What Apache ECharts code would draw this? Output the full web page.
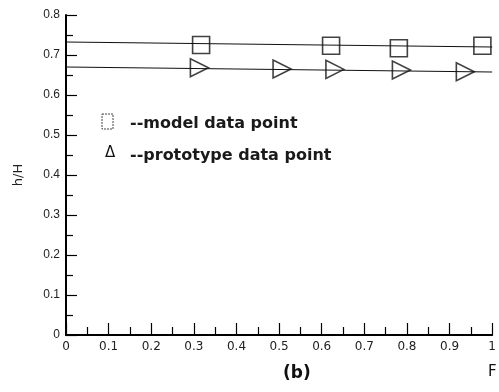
<!DOCTYPE html>
<html>
<head>
<meta charset="utf-8">
<script src="https://cdn.jsdelivr.net/npm/echarts@6/dist/echarts.min.js"></script>
<style>
  html, body { margin: 0; padding: 0; background: #fff; }
  #chart { width: 499px; height: 392px; }
</style>
</head>
<body>
<div id="chart"></div>
<script>
// values
const modelX = [0.317, 0.622, 0.781, 0.977];
const modelY = [0.725, 0.723, 0.717, 0.723];
const protoX = [0.313, 0.507, 0.631, 0.787, 0.937];
const protoY = [0.668, 0.665, 0.664, 0.6625, 0.658];
// fitted lines (end points)
const modelFitX = [0, 1];
const modelFitY = [0.7325, 0.72];
const protoFitX = [0, 1];
const protoFitY = [0.67, 0.6575];
const xTicks = ["0", "0.1", "0.2", "0.3", "0.4", "0.5", "0.6", "0.7", "0.8", "0.9", "1"];
const yTicks = ["0", "0.1", "0.2", "0.3", "0.4", "0.5", "0.6", "0.7", "0.8"];

const zip = (a, b) => a.map((v, i) => [v, b[i]]);

const chart = echarts.init(document.getElementById("chart"));

const FONT = "DejaVu Sans, Verdana, sans-serif";

const option = {
  backgroundColor: "#fff",
  animation: false,
  grid: { left: 66, top: 15, width: 434, height: 320 },
  xAxis: {
    type: "value",
    min: 0,
    max: 1,
    interval: 0.1,
    axisLine: { lineStyle: { color: "#000", width: 2 } },
    axisTick: { inside: true, length: 12, lineStyle: { color: "#000", width: 1.2 } },
    minorTick: { show: true, splitNumber: 2, length: 8, lineStyle: { color: "#000", width: 1.2 } },
    splitLine: { show: false },
    axisLabel: {
      color: "#222", fontSize: 12, fontFamily: FONT,
      margin: 6,
      formatter: (v) => xTicks[Math.round(v * 10)]
    }
  },
  yAxis: {
    type: "value",
    min: 0,
    max: 0.8,
    interval: 0.1,
    name: "h/H",
    nameLocation: "middle",
    nameGap: 41,
    nameTextStyle: { color: "#222", fontSize: 13, fontFamily: FONT },
    axisLine: { show: true, lineStyle: { color: "#000", width: 2 } },
    axisTick: { inside: true, length: 11, lineStyle: { color: "#000", width: 1.2 } },
    minorTick: { show: true, splitNumber: 2, length: 7, lineStyle: { color: "#000", width: 1.2 } },
    splitLine: { show: false },
    axisLabel: {
      color: "#222", fontSize: 12, fontFamily: "Liberation Sans, Arial, sans-serif",
      margin: 6,
      formatter: (v) => yTicks[Math.round(v * 10)]
    }
  },
  series: [
    {
      type: "line",
      data: zip(modelFitX, modelFitY),
      symbol: "none",
      lineStyle: { color: "#111", width: 1.2 },
      z: 1
    },
    {
      type: "line",
      data: zip(protoFitX, protoFitY),
      symbol: "none",
      lineStyle: { color: "#111", width: 1.2 },
      z: 1
    },
    {
      type: "scatter",
      data: zip(modelX, modelY),
      symbol: "rect",
      symbolSize: 17,
      itemStyle: { color: "rgba(0,0,0,0)", borderColor: "#111", borderWidth: 1.6 },
      z: 3
    },
    {
      type: "scatter",
      data: zip(protoX, protoY),
      symbol: "triangle",
      symbolRotate: -90,
      symbolSize: 18,
      itemStyle: { color: "rgba(0,0,0,0)", borderColor: "#111", borderWidth: 1.6 },
      z: 3
    }
  ],
  graphic: [
    {
      type: "rect",
      shape: { x: 102, y: 114, width: 11, height: 15 },
      style: { fill: "none", stroke: "#444", lineWidth: 1, lineDash: [2, 1] }
    },
    {
      type: "text",
      left: 130, top: 116,
      style: { text: "--model data point", fill: "#1a1a1a", font: "bold 16px " + FONT }
    },
    {
      type: "text",
      left: 105, top: 146,
      style: { text: "Δ", fill: "#111", font: "15px " + FONT }
    },
    {
      type: "text",
      left: 130, top: 148,
      style: { text: "--prototype data point", fill: "#1a1a1a", font: "bold 16px " + FONT }
    },
    {
      type: "text",
      left: 283, top: 365,
      style: { text: "(b)", fill: "#111", font: "bold 17px " + FONT }
    },
    {
      type: "text",
      left: 488, top: 365,
      style: { text: "F", fill: "#111", font: "15px " + FONT }
    }
  ]
};

chart.setOption(option);
</script>
</body>
</html>
